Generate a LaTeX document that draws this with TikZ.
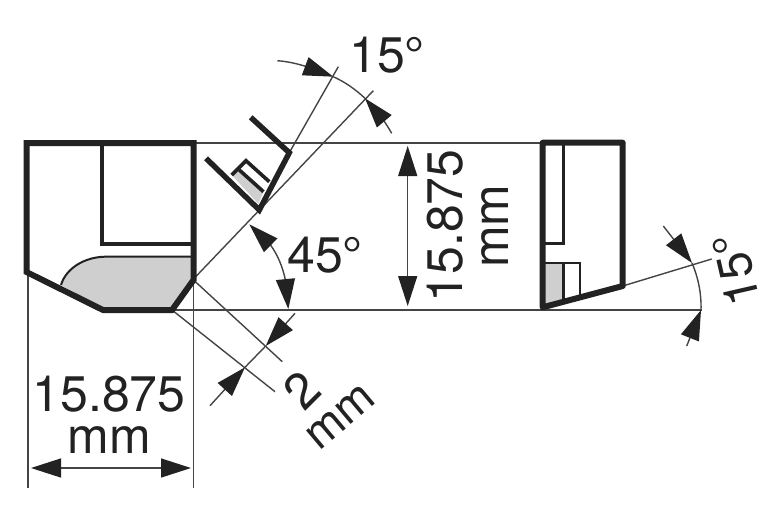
\documentclass[tikz,border=0pt]{standalone}
\usepackage{fontspec}
\setmainfont{TeX Gyre Heros}
\usetikzlibrary{arrows.meta,bending}
\definecolor{ink}{HTML}{222222}
\definecolor{fillgrey}{HTML}{CFCFCF}
\definecolor{thin}{HTML}{444444}
\tikzset{
 outline/.style={draw=ink,line width=6pt,line join=miter},
 outlinemid/.style={draw=ink,line width=5.5pt,line join=miter},
 inner/.style={draw=ink,line width=3.6pt},
 innerthin/.style={draw=ink,line width=2pt},
 guide/.style={draw=thin,line width=1.4pt},
 headend/.style={-{Triangle[length=30pt,width=19pt,fill=ink,color=ink]}},
 headboth/.style={{Triangle[length=30pt,width=19pt,fill=ink,color=ink]}-{Triangle[length=30pt,width=19pt,fill=ink,color=ink]}},
 lbl/.style={inner sep=0pt,anchor=base,text=ink,font=\fontsize{50}{50}\selectfont},
}
\begin{document}
\begin{tikzpicture}[x=1pt,y=-1pt]
\useasboundingbox (0,0) rectangle (767,523);
% grey fills
\fill[fillgrey] (61,285) .. controls (66,268) and (85,257) .. (105,256.7) -- (192,256.7) -- (192,280) -- (172,310) -- (103,310) -- cycle;
\fill[fillgrey] (231.7,175) -- (239.3,170) -- (263.5,191.7) -- (258.3,204) -- cycle;
\fill[fillgrey] (545,263) -- (563,263) -- (563,300) -- (545,306) -- cycle;
% guide lines
\draw[guide] (193,143) -- (542,143);
\draw[guide] (172,310) -- (702,310);
\draw[guide] (28,272) -- (28,488);
\draw[guide] (193.5,280) -- (193.5,488);
\draw[guide] (193.5,279) -- (373.3,90.7);
\draw[guide] (289.3,152.7) -- (338.3,66.7);
\draw[guide] (622.7,286) -- (711.7,259);
\draw[guide] (193.5,280) -- (282.3,361.7);
\draw[guide] (172,310) -- (275,391.7);
% main view
\draw[innerthin] (61,285) .. controls (66,268) and (85,257) .. (105,256.7) -- (192,256.7);
\draw[inner] (101.7,143) -- (101.7,244) -- (193,244);
\draw[outline] (26.5,143) -- (193.5,143) -- (193.5,280) -- (172,310) -- (103,310) -- (26.5,272) -- cycle;
% middle view
\draw[inner] (231.7,175) -- (246,160.7) -- (269.3,181.7);
\draw[inner] (239.3,170) -- (263.5,191.7);
\draw[outlinemid] (206,158.3) -- (259.3,210) -- (289.3,152.7) -- (250.7,117.3);
% right view
\draw[inner] (563.3,143) -- (563.3,243.3) -- (543,243.3);
\draw[innerthin] (545,262.5) -- (580,262.5) -- (580,296);
\draw[inner] (563.3,263) -- (563.3,300);
\draw[outline,line join=round] (542.7,142.7) -- (622.7,142.7) -- (622.7,286) -- (542.7,307.3) -- cycle;
% dimensions
\draw[guide,headboth] (31,468) -- (191,468);
\draw[guide,headboth] (407.7,146) -- (407.7,306);
\draw[guide,headend] (277.3,60.7) .. controls (296,62) and (315,69) .. (333.3,76.7);
\draw[guide,headend] (391.7,133.3) .. controls (384,120) and (376,109) .. (365,98.3);
\draw[guide] (333.3,76.7) .. controls (345,82) and (355,89) .. (365,98.3);
\draw[guide,headboth] (249.3,224.3) .. controls (272,240) and (288,265) .. (288.3,309);
\draw[guide,headend] (663.3,226) -- (692,263);
\draw[guide,headend] (686.7,346) -- (701,310);
\draw[guide] (692,263) .. controls (698,277) and (701.5,293) .. (701,310);
\draw[guide,headend] (295,313.3) -- (265.7,346);
\draw[guide,headend] (210,405.7) -- (245,367.3);
\draw[guide] (265.7,346) -- (245,367.3);
% labels
\node[lbl] (a) at (387,72) {15°};
\node[lbl] (b) at (109,411) {15.875};
\node[lbl] (c) at (109,453) {mm};
\node[lbl] (d) at (325,272) {45°};
\node[lbl,rotate=90] (e) at (462,226) {15.875};
\node[lbl,rotate=90] (f) at (508,226) {mm};
\node[lbl,rotate=103,anchor=center,font=\fontsize{48}{50}\selectfont] (g) at (736,270) {15°};
\node[lbl,rotate=45,anchor=center] (h) at (302,390) {2};
\node[lbl,rotate=40,anchor=center,font=\fontsize{46}{50}\selectfont] (i) at (341,417) {mm};
\end{tikzpicture}
\end{document}
